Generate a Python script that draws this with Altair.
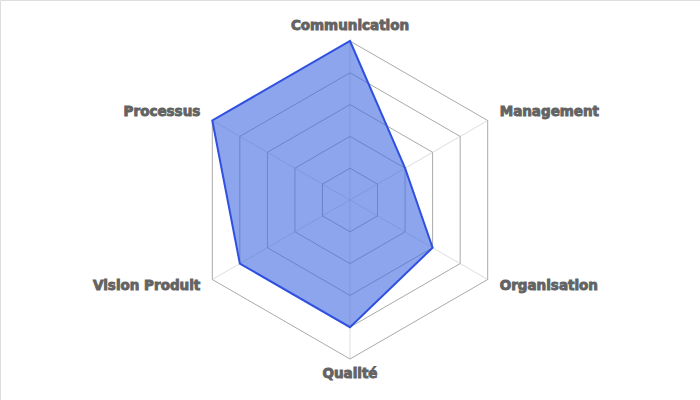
import altair as alt
import pandas as pd
import numpy as np

categories = ["Communication", "Management", "Organisation", "Qualité", "Vision Produit", "Processus"]
values = [5, 2, 3, 4, 4, 5]
levels = [1, 2, 3, 4, 5]
max_value = 5

n = len(categories)
angles = [i * 2 * np.pi / n for i in range(n)]

series = pd.DataFrame({
    "cat": categories,
    "value": values,
    "idx": list(range(n)),
    "ang": angles,
})
series["x"] = series["value"] * np.sin(series["ang"])
series["y"] = series["value"] * np.cos(series["ang"])

rows = []
for lv in levels:
    for i, c in enumerate(categories):
        rows.append({"level": lv, "cat": c, "idx": i,
                     "x": lv * np.sin(angles[i]), "y": lv * np.cos(angles[i])})
grid = pd.DataFrame(rows)

spk = []
for i, c in enumerate(categories):
    spk.append({"cat": c, "pt": 0, "x": 0.0, "y": 0.0})
    spk.append({"cat": c, "pt": 1, "x": max_value * np.sin(angles[i]), "y": max_value * np.cos(angles[i])})
spokes = pd.DataFrame(spk)

lab = pd.DataFrame({
    "cat": categories,
    "x": [max_value * np.sin(a) for a in angles],
    "y": [max_value * np.cos(a) for a in angles],
})

W, H = 700, 400
R = 159.0
unit = R / max_value
xs = alt.Scale(domain=[-W / 2 / unit, W / 2 / unit], nice=False, zero=False)
ys = alt.Scale(domain=[-H / 2 / unit, H / 2 / unit], nice=False, zero=False)
X = alt.X("x:Q", scale=xs, axis=None)
Y = alt.Y("y:Q", scale=ys, axis=None)

spoke_layer = alt.Chart(spokes).mark_line(color="#dddddd", strokeWidth=1).encode(
    x=X, y=Y, detail="cat:N", order="pt:Q")

ring_layer = alt.Chart(grid).mark_line(interpolate="linear-closed", color="#aaaaaa", strokeWidth=1).encode(
    x=X, y=Y, detail="level:N", order="idx:Q")

area_layer = alt.Chart(series).mark_line(
    interpolate="linear-closed", fill="#4169e1", fillOpacity=0.6,
    stroke="#3050e0", strokeWidth=2).encode(x=X, y=Y, order="idx:Q")

tstyle = dict(font="DejaVu Sans", fontSize=13.5, fontWeight="bold", color="#636363",
              stroke="#636363", strokeWidth=0.9)


def label_layer(names, align, baseline, dx, dy):
    cond = None
    for nm in names:
        c = alt.datum.cat == nm
        cond = c if cond is None else (cond | c)
    return alt.Chart(lab).transform_filter(cond).mark_text(
        align=align, baseline=baseline, dx=dx, dy=dy, **tstyle).encode(x=X, y=Y, text="cat:N")


layers = [
    label_layer(["Communication"], "center", "alphabetic", 0, -11),
    label_layer(["Qualité"], "center", "alphabetic", 0, 19),
    label_layer(["Management"], "left", "middle", 12, -9),
    label_layer(["Organisation"], "left", "middle", 12, 6),
    label_layer(["Processus"], "right", "middle", -12, -9),
    label_layer(["Vision Produit"], "right", "middle", -12, 6),
]

chart = alt.layer(spoke_layer, ring_layer, area_layer, *layers).properties(
    width=W, height=H, padding=0, autosize=alt.AutoSizeParams(type="none")
).configure_view(strokeWidth=0).configure(background="white")

chart.save("out.html", embed_options={"renderer": "svg", "actions": False})
